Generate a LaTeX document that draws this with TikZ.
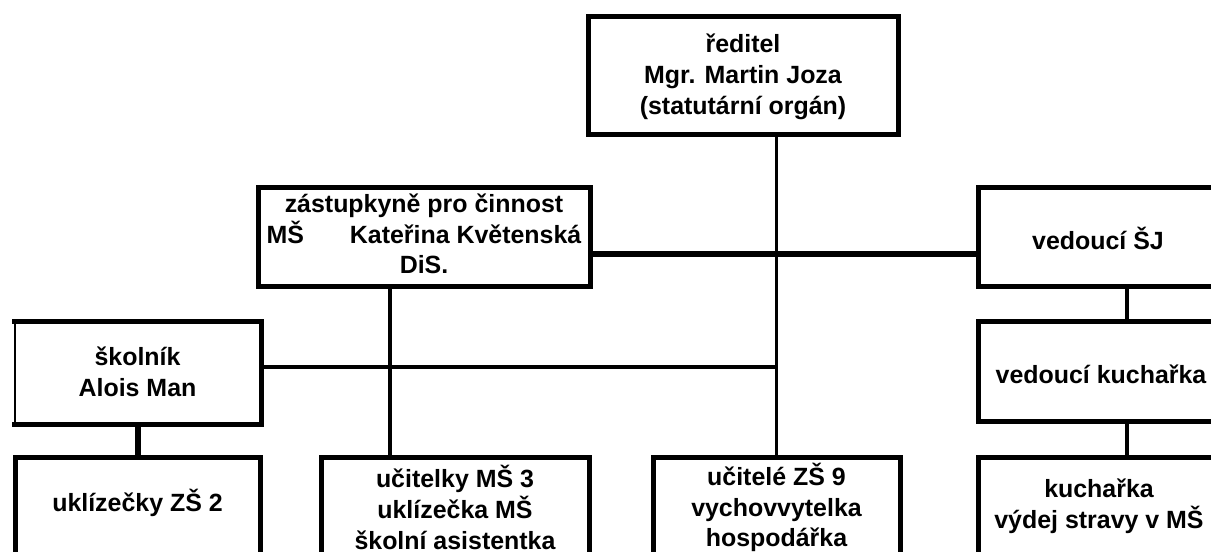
\documentclass[tikz,border=0pt]{standalone}
\usepackage{fontspec}
\setmainfont{Liberation Sans}
\begin{document}
\begin{tikzpicture}[x=0.75pt,y=-0.75pt]
\tikzset{
  box/.style={draw=black, line width=3.75pt, fill=none, inner sep=0pt, rectangle},
  txt/.style={inner sep=0pt, align=center, font=\bfseries\fontsize{18.7pt}{23pt}\selectfont},
  conn/.style={draw=black, line width=2.6pt},
  connthick/.style={draw=black, line width=4.5pt},
  connmid/.style={draw=black, line width=3pt}
}
\useasboundingbox (0,0) rectangle (1211,552);
\clip (0,0) rectangle (1211,552);
\fill[white] (0,0) rectangle (1211,552);

% boxes
\node[box, minimum width=232.5pt, minimum height=88.5pt] (red) at (743,76) {};
\node[box, minimum width=249pt, minimum height=74.25pt] (zast) at (424,237.5) {};
\node[box, minimum width=180pt, minimum height=74.25pt] (vedSJ) at (1098,237.5) {};
\node[box, minimum width=180pt, minimum height=75pt] (vedKuch) at (1098,372) {};
\node[box, minimum width=180pt, minimum height=150pt] (kuch) at (1098,557) {};
\node[box, line width=2.1pt, minimum width=183.75pt, minimum height=75pt] (skol) at (137.5,373) {};
\node[box, minimum width=183.75pt, minimum height=150pt] (ukl) at (137.5,557) {};
\node[box, minimum width=201pt, minimum height=150pt] (ucitelky) at (455,557) {};
\node[box, minimum width=185.25pt, minimum height=150pt] (ucitele) at (776.5,557) {};

% thick top, bottom and right edges of the školník box
\draw[line width=3.75pt] ([xshift=-1pt]skol.north west) -- ([xshift=1.9pt]skol.north east);
\draw[line width=3.75pt] ([xshift=-1pt]skol.south west) -- ([xshift=1.9pt]skol.south east);
\draw[line width=3.75pt] (skol.north east) -- (skol.south east);

% texts
\node[txt] (redT) at (743,77) {ředitel\\Mgr. Martin Joza\\(statutární orgán)};
\node[txt] (zastT) at (424,234) {zástupkyně pro činnost\\\makebox[236pt]{MŠ\hfill Kateřina Květenská}\\DiS.};
\node[txt] (vedSJT) at (1098,238) {vedoucí ŠJ};
\node[txt] (vedKuchT) at (1101,374) {vedoucí kuchařka};
\node[txt] (kuchT) at (1099,506) {kuchařka\\výdej stravy v MŠ};
\node[txt] (skolT) at (137.5,372) {školník\\Alois Man};
\node[txt] (uklT) at (137.5,503) {uklízečky ZŠ 2};
\node[txt] (ucitelkyT) at (455,507.5) {učitelky MŠ 3\\uklízečka MŠ\\školní asistentka};
\node[txt] (uciteleT) at (776.5,507.5) {učitelé ZŠ 9\\vychovvytelka\\hospodářka};

% junction coordinates
\coordinate (j1) at (776.5,254);
\coordinate (j2) at (390,287);
\coordinate (j3) at (776.5,367);
\coordinate (j4) at (1127,300);

% connectors
\draw[conn] (red.south -| ucitele.north) -- (ucitele.north);
\draw[connthick] (zast.east |- j1) -- (vedSJ.west |- j1);
\draw[conn] (zast.south -| j2) -- (ucitelky.north -| j2);
\draw[conn] (skol.east |- j3) -- (j3);
\draw[connthick] (skol.south) -- (ukl.north);
\draw[connmid] (vedSJ.south -| j4) -- (vedKuch.north -| j4);
\draw[connmid] (vedKuch.south -| j4) -- (kuch.north -| j4);
\end{tikzpicture}
\end{document}
